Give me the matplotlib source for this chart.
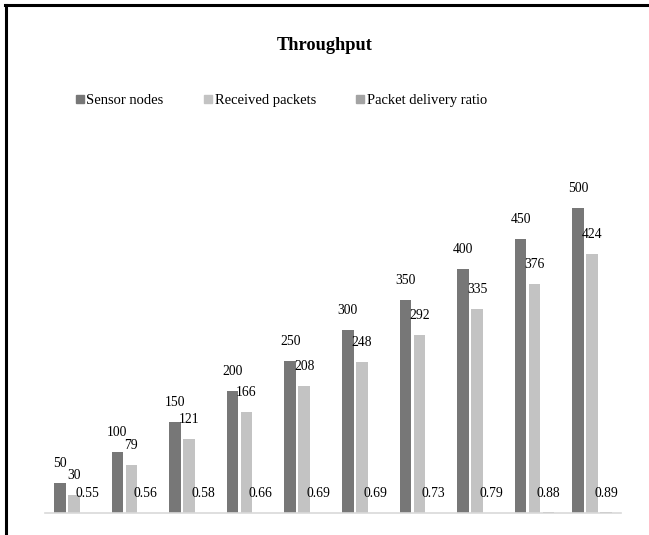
import matplotlib
matplotlib.use("Agg")
import matplotlib.pyplot as plt
import numpy as np
from matplotlib.lines import Line2D

sensor_nodes = [50, 100, 150, 200, 250, 300, 350, 400, 450, 500]
received = [30, 79, 121, 166, 208, 248, 292, 335, 376, 424]
ratio = [0.55, 0.56, 0.58, 0.66, 0.69, 0.69, 0.73, 0.79, 0.88, 0.89]
names = ["Sensor nodes", "Received packets", "Packet delivery ratio"]
colors = ["#777777", "#c3c3c3", "#a3a3a3"]

plt.rcParams['font.family'] = ['Liberation Serif', 'DejaVu Serif']

fig = plt.figure(figsize=(6.49, 5.35), dpi=100)
ax = fig.add_axes([45 / 649, 22 / 535, 576 / 649, 366 / 535])

x = np.arange(len(sensor_nodes))
w = 0.2
step = 0.243
series = [sensor_nodes, received, ratio]
for k, vals in enumerate(series):
    pos = x + (k - 1) * step
    ax.bar(pos, vals, width=w, color=colors[k])
    for p, v in zip(pos, vals):
        ax.annotate(str(v), (p, v), xytext=(0, 14), textcoords='offset points',
                    ha='center', va='center', fontsize=9.8)

ax.set_xlim(-0.5, 9.5)
ax.set_ylim(0, 600)
for s in ['top', 'right', 'left']:
    ax.spines[s].set_visible(False)
ax.spines['bottom'].set_color('#d9d9d9')
ax.spines['bottom'].set_linewidth(1.2)
ax.set_xticks([])
ax.set_yticks([])

fig.text(0.5, 1 - 45 / 535, "Throughput", ha='center', va='center',
         fontsize=13.2, fontweight='bold')

handles = [Line2D([], [], marker='s', linestyle='none', markersize=6,
                  markerfacecolor=c, markeredgecolor=c) for c in colors]
fig.legend(handles, names, loc='center', bbox_to_anchor=(0.434, 1 - 100 / 535),
           ncol=3, frameon=False, fontsize=10.5, handlelength=0.5,
           handletextpad=0.2, columnspacing=2.8)

# border lines (left and top)
fig.add_artist(Line2D([6 / 649, 6 / 649], [0, 1 - 5 / 535], color='black', lw=2.2,
                      transform=fig.transFigure))
fig.add_artist(Line2D([5 / 649, 1], [1 - 5 / 535, 1 - 5 / 535], color='black', lw=2.2,
                      transform=fig.transFigure))

fig.savefig("out.png", dpi=100)
